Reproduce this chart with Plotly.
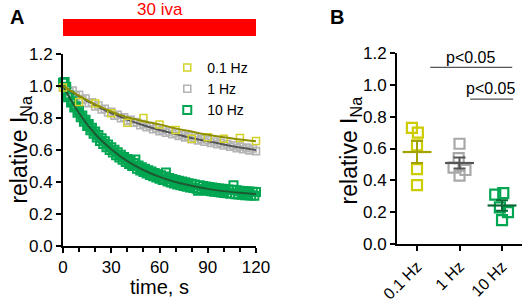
import plotly.graph_objects as go
import numpy as np

# ---------------- Panel A data ----------------
t_sparse = [0, 10, 20, 30, 40, 50, 60, 70, 80, 90, 100, 110, 120]
hz01_vals = [0.99, 0.90, 0.89, 0.83, 0.77, 0.80, 0.76, 0.725, 0.67, 0.68, 0.67, 0.675, 0.656]
hz01_fit = [1.0, 0.94, 0.885, 0.84, 0.805, 0.78, 0.76, 0.735, 0.715, 0.695, 0.68, 0.665, 0.655]
hz1_fit = [1.0, 0.935, 0.88, 0.83, 0.79, 0.755, 0.725, 0.70, 0.675, 0.655, 0.635, 0.615, 0.60]
hz10_fit = [1.0, 0.83, 0.70, 0.605, 0.53, 0.475, 0.432, 0.40, 0.376, 0.357, 0.343, 0.333, 0.325]

t_1hz = list(range(0, 121, 2))
hz1_vals = [0.990, 0.995, 0.965, 0.972, 0.940, 0.945, 0.915, 0.922, 0.893, 0.898,
            0.872, 0.878, 0.853, 0.858, 0.834, 0.838, 0.815, 0.820, 0.798, 0.805,
            0.782, 0.789, 0.770, 0.775, 0.755, 0.762, 0.742, 0.749, 0.730, 0.737,
            0.718, 0.726, 0.708, 0.716, 0.698, 0.706, 0.688, 0.696, 0.679, 0.686,
            0.668, 0.677, 0.660, 0.669, 0.652, 0.661, 0.644, 0.653, 0.636, 0.645,
            0.628, 0.637, 0.620, 0.629, 0.612, 0.621, 0.605, 0.615, 0.598, 0.609,
            0.593]

t_10hz = list(range(0, 121))
hz10_vals = [1.020, 1.025, 0.995, 0.930, 0.940, 0.897, 0.905, 0.866, 0.874, 0.833,
             0.845, 0.805, 0.815, 0.776, 0.789, 0.750, 0.762, 0.724, 0.739, 0.701,
             0.716, 0.678, 0.694, 0.657, 0.673, 0.637, 0.654, 0.618, 0.635, 0.600,
             0.618, 0.584, 0.601, 0.567, 0.586, 0.553, 0.571, 0.539, 0.557, 0.525,
             0.544, 0.512, 0.531, 0.500, 0.519, 0.540, 0.483, 0.503, 0.472, 0.492,
             0.462, 0.483, 0.453, 0.474, 0.444, 0.465, 0.436, 0.457, 0.428, 0.449,
             0.420, 0.442, 0.413, 0.435, 0.460, 0.403, 0.425, 0.397, 0.419, 0.391,
             0.413, 0.385, 0.408, 0.380, 0.403, 0.375, 0.398, 0.371, 0.393, 0.366,
             0.389, 0.362, 0.385, 0.358, 0.345, 0.379, 0.352, 0.375, 0.349, 0.372,
             0.345, 0.369, 0.342, 0.366, 0.339, 0.363, 0.337, 0.360, 0.334, 0.358,
             0.331, 0.355, 0.329, 0.353, 0.327, 0.351, 0.380, 0.324, 0.348, 0.322,
             0.346, 0.320, 0.344, 0.318, 0.342, 0.317, 0.341, 0.315, 0.339, 0.314,
             0.338]

series_names = ["0.1 Hz", "1 Hz", "10 Hz"]
x_ticks_a = [0, 30, 60, 90, 120]
y_ticks = [0.0, 0.2, 0.4, 0.6, 0.8, 1.0, 1.2]

# ---------------- Panel B data ----------------
b_categories = ["0.1 Hz", "1 Hz", "10 Hz"]
b_hz01 = [0.73, 0.70, 0.62, 0.47, 0.37]
b_hz1 = [0.63, 0.54, 0.48, 0.465, 0.43]
b_hz10 = [0.31, 0.32, 0.23, 0.20, 0.15]
b_jitter = [[-0.12, 0.02, 0.0, 0.0, 0.0],
            [0.0, -0.02, -0.14, 0.14, 0.0],
            [-0.16, 0.03, -0.05, 0.14, 0.0]]
sig_text = "p<0.05"

# ---------------- styles ----------------
FONT = "Liberation Sans, Arial, sans-serif"
c_yel = "#d2d22a"
c_yel_fit = "#8e8e00"
c_gry = "#b4b4b4"
c_gry_fit = "#555555"
c_grn = "#00a651"
c_grn_fit = "#1d5a32"
c_b_mean = ["#a3a300", "#555555", "#0a6a35"]
c_b_pts = ["#cccc00", "#a8a8a8", "#00a651"]

fig = go.Figure()

fig.add_trace(go.Scatter(x=t_1hz, y=hz1_vals, mode="markers", name=series_names[1],
                         marker=dict(symbol="square-open", size=7, color=c_gry, line=dict(width=1.6)),
                         cliponaxis=False, legendrank=2, xaxis="x", yaxis="y"))
fig.add_trace(go.Scatter(x=t_10hz, y=hz10_vals, mode="markers", name=series_names[2],
                         marker=dict(symbol="square-open", size=8, color=c_grn, line=dict(width=2)),
                         cliponaxis=False, legendrank=3, xaxis="x", yaxis="y"))
fig.add_trace(go.Scatter(x=t_sparse, y=hz1_fit, mode="lines", line=dict(color=c_gry_fit, width=2, shape="spline"),
                         showlegend=False, xaxis="x", yaxis="y"))
fig.add_trace(go.Scatter(x=t_sparse, y=hz10_fit, mode="lines", line=dict(color=c_grn_fit, width=2, shape="spline"),
                         showlegend=False, xaxis="x", yaxis="y"))
fig.add_trace(go.Scatter(x=t_sparse, y=hz01_vals, mode="markers", name=series_names[0],
                         marker=dict(symbol="square-open", size=7, color=c_yel, line=dict(width=1.5)),
                         cliponaxis=False, legendrank=1, xaxis="x", yaxis="y"))
fig.add_trace(go.Scatter(x=t_sparse, y=hz01_fit, mode="lines", line=dict(color=c_yel_fit, width=2, shape="spline"),
                         showlegend=False, xaxis="x", yaxis="y"))

b_data = [b_hz01, b_hz1, b_hz10]
for i, vals in enumerate(b_data):
    arr = np.array(vals)
    xs = [i + j for j in b_jitter[i]]
    fig.add_trace(go.Scatter(x=xs, y=vals, mode="markers", showlegend=False,
                             marker=dict(symbol="square-open", size=10, color=c_b_pts[i], line=dict(width=2.2)),
                             cliponaxis=False, xaxis="x2", yaxis="y2"))
    m = arr.mean()
    sem = arr.std(ddof=1) / np.sqrt(len(arr))
    fig.add_trace(go.Scatter(x=[i], y=[m], mode="markers", showlegend=False,
                             marker=dict(size=1, color="rgba(0,0,0,0)"),
                             error_y=dict(type="data", array=[sem], color=c_b_mean[i], thickness=2, width=6),
                             xaxis="x2", yaxis="y2"))
    fig.add_trace(go.Scatter(x=[i - 0.34, i + 0.34], y=[m, m], mode="lines", showlegend=False,
                             line=dict(color=c_b_mean[i], width=2.2), xaxis="x2", yaxis="y2"))

axis_common = dict(showline=True, linecolor="black", linewidth=2, ticks="outside", ticklen=5,
                   tickwidth=2, tickcolor="black", showgrid=False, zeroline=False, automargin=False,
                   tickfont=dict(family=FONT, size=17, color="black"))

fig.update_layout(
    width=526, height=302, margin=dict(l=0, r=0, t=0, b=0, autoexpand=False),
    paper_bgcolor="white", plot_bgcolor="white",
    font=dict(family=FONT, color="black"),
    xaxis=dict(domain=[0.1198, 0.4867], range=[0, 120], tickvals=x_ticks_a, anchor="y",
               minor=dict(dtick=10, tick0=0, ticks="outside", ticklen=4, tickwidth=1.5, tickcolor="black"),
               **axis_common),
    yaxis=dict(domain=[0.1854, 0.8212], range=[0, 1.2], tickvals=y_ticks, tickformat=".1f", anchor="x",
               **axis_common),
    xaxis2=dict(domain=[0.7548, 0.9924], range=[-0.47, 2.47], tickvals=[0, 1, 2], ticktext=b_categories,
                tickangle=-45, anchor="y2",
                **{**axis_common, "tickfont": dict(family=FONT, size=16, color="black")}),
    yaxis2=dict(domain=[0.192, 0.8245], range=[0, 1.2], tickvals=y_ticks, tickformat=".1f", anchor="x2",
                **axis_common),
    legend=dict(x=0.318, y=0.828, xanchor="left", yanchor="top", bgcolor="rgba(0,0,0,0)",
                font=dict(family=FONT, size=14, color="black"), tracegroupgap=0),
    showlegend=True,
)

fig.add_shape(type="rect", xref="x", yref="paper", x0=0, x1=120, y0=0.881, y1=0.937,
              fillcolor="#ff0000", line=dict(width=0))

fig.add_shape(type="line", xref="x2", yref="y2", x0=0.31, x1=2.24, y0=1.11, y1=1.11,
              line=dict(color="#555555", width=1.2))
fig.add_shape(type="line", xref="x2", yref="y2", x0=1.25, x1=2.26, y0=0.91, y1=0.91,
              line=dict(color="#555555", width=1.2))

def A(**kw):
    d = dict(showarrow=False, xanchor="center", yanchor="middle")
    d.update(kw)
    return d

ann = [
    A(text="30 iva", x=60, xref="x", y=0.970, yref="paper",
      font=dict(family=FONT, size=17, color="#ff0000")),
    A(text="<b>A</b>", x=0.0323, xref="paper", y=0.944, yref="paper",
      font=dict(family=FONT, size=20, color="black")),
    A(text="<b>B</b>", x=0.641, xref="paper", y=0.944, yref="paper",
      font=dict(family=FONT, size=20, color="black")),
    A(text="time, s", x=60, xref="x", y=0.05, yref="paper",
      font=dict(family=FONT, size=20, color="black")),
    A(text="relative I<sub>Na</sub>", x=0.039, xref="paper", y=0.503, yref="paper",
      textangle=-90, font=dict(family=FONT, size=23, color="black")),
    A(text="relative I<sub>Na</sub>", x=0.666, xref="paper", y=0.503, yref="paper",
      textangle=-90, font=dict(family=FONT, size=23, color="black")),
    A(text=sig_text, x=1.25, xref="x2", y=1.17, yref="y2",
      font=dict(family=FONT, size=16, color="black")),
    A(text=sig_text, x=1.74, xref="x2", y=0.975, yref="y2",
      font=dict(family=FONT, size=16, color="black")),
]
fig.update_layout(annotations=ann)

fig.write_html("out.html", config={"displayModeBar": False},
               post_script="document.body.style.margin='0px';")
